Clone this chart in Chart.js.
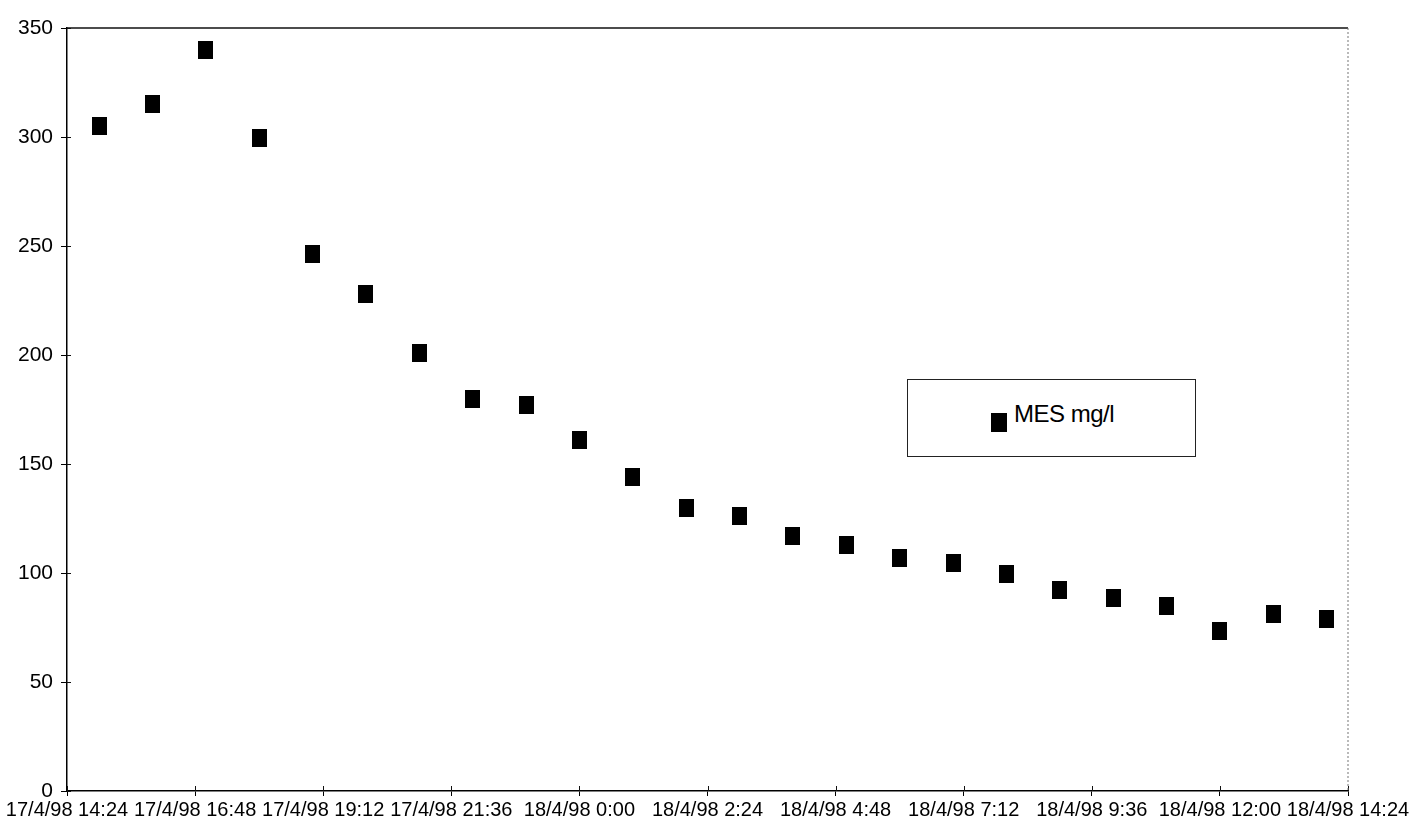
<!DOCTYPE html>
<html>
<head>
<meta charset="utf-8">
<title>MES mg/l</title>
<script src="https://cdn.jsdelivr.net/npm/chart.js@4.4.1/dist/chart.umd.min.js"></script>
<style>
    body { margin: 0; background: #fff; }
    #wrap { position: relative; width: 1420px; height: 833px; }
    #legend {
        position: absolute; left: 907px; top: 379px; width: 287px; height: 76px;
        border: 1px solid #222; background: #fff;
        font-family: "Liberation Sans", Arial, sans-serif; font-size: 24px; color: #000;
    }
    #legend .mark { position: absolute; left: 83px; top: 33px; width: 16px; height: 19px; background: #000; }
    #legend .text { position: absolute; left: 106px; top: 22px; line-height: 24px; letter-spacing: -0.5px; }
</style>
</head>
<body>
<div id="wrap">
    <canvas id="chart" width="1420" height="833"></canvas>
    <div id="legend"></div>
</div>
<script>
// sample times (hourly) and suspended solids readings
const sampleTimes = [
    '17/4/98 15:00', '17/4/98 16:00', '17/4/98 17:00', '17/4/98 18:00',
    '17/4/98 19:00', '17/4/98 20:00', '17/4/98 21:00', '17/4/98 22:00',
    '17/4/98 23:00', '18/4/98 0:00', '18/4/98 1:00', '18/4/98 2:00',
    '18/4/98 3:00', '18/4/98 4:00', '18/4/98 5:00', '18/4/98 6:00',
    '18/4/98 7:00', '18/4/98 8:00', '18/4/98 9:00', '18/4/98 10:00',
    '18/4/98 11:00', '18/4/98 12:00', '18/4/98 13:00', '18/4/98 14:00'
];
const mesValues = [
    305, 315, 340, 299.5, 246.5, 228, 201, 180,
    177, 161, 144, 130, 126, 117, 113, 107,
    104.5, 99.5, 92, 88.5, 85, 73.5, 81, 79
];
const xTickLabels = [
    '17/4/98 14:24', '17/4/98 16:48', '17/4/98 19:12', '17/4/98 21:36',
    '18/4/98 0:00', '18/4/98 2:24', '18/4/98 4:48', '18/4/98 7:12',
    '18/4/98 9:36', '18/4/98 12:00', '18/4/98 14:24'
];
const seriesLabel = 'MES mg/l';

// '17/4/98 14:24' -> minutes since 17/4/98 0:00
function toMinutes(label) {
    const [date, time] = label.split(' ');
    const day = parseInt(date.split('/')[0], 10);
    const [h, m] = time.split(':').map(Number);
    return (day - 17) * 1440 + h * 60 + m;
}

// black square marker, a bit taller than wide like the original
const marker = document.createElement('canvas');
marker.width = 15;
marker.height = 18;
const mctx = marker.getContext('2d');
mctx.fillStyle = '#000';
mctx.fillRect(0, 0, 15, 18);

const FONT = '"Liberation Sans", Arial, sans-serif';

// top line, dotted right edge and the small inner half of the tick marks
const frame = {
    id: 'frame',
    afterDraw(chart) {
        const { ctx, chartArea: a, scales } = chart;
        ctx.save();
        ctx.strokeStyle = '#111';
        ctx.lineWidth = 1.5;
        ctx.beginPath();
        ctx.moveTo(a.left, a.top);
        ctx.lineTo(a.right, a.top);
        ctx.stroke();

        ctx.lineWidth = 1;
        ctx.beginPath();
        scales.x.ticks.forEach(t => {
            const px = Math.round(scales.x.getPixelForValue(t.value)) + 0.5;
            ctx.moveTo(px, a.bottom);
            ctx.lineTo(px, a.bottom - 5);
        });
        scales.y.ticks.forEach(t => {
            const py = Math.round(scales.y.getPixelForValue(t.value)) + 0.5;
            ctx.moveTo(a.left, py);
            ctx.lineTo(a.left + 4, py);
        });
        ctx.stroke();

        ctx.strokeStyle = '#777';
        ctx.setLineDash([2, 2]);
        ctx.beginPath();
        ctx.moveTo(a.right, a.top);
        ctx.lineTo(a.right, a.bottom);
        ctx.stroke();
        ctx.restore();
    }
};

const chart = new Chart(document.getElementById('chart'), {
    type: 'scatter',
    data: {
        datasets: [{
            label: seriesLabel,
            data: sampleTimes.map((t, i) => ({ x: toMinutes(t), y: mesValues[i] })),
            pointStyle: marker,
            backgroundColor: '#000',
            borderColor: '#000'
        }]
    },
    options: {
        responsive: false,
        animation: false,
        layout: { padding: { top: 28, right: 72, left: 0, bottom: 0 } },
        plugins: {
            legend: { display: false },
            tooltip: { enabled: false }
        },
        scales: {
            x: {
                type: 'linear',
                min: toMinutes(xTickLabels[0]),
                max: toMinutes(xTickLabels[xTickLabels.length - 1]),
                afterBuildTicks: (scale) => {
                    scale.ticks = xTickLabels.map(l => ({ value: toMinutes(l) }));
                },
                afterFit: (scale) => { scale.height = 42; },
                border: { color: '#000', width: 1.5 },
                grid: { drawOnChartArea: false, tickLength: 5, color: '#000' },
                ticks: {
                    autoSkip: false,
                    maxRotation: 0,
                    padding: 2,
                    color: '#000',
                    font: { family: FONT, size: 20 },
                    callback: (v, i) => xTickLabels[i]
                }
            },
            y: {
                min: 0,
                max: 350,
                afterFit: (scale) => { scale.width = 67; },
                border: { color: '#000', width: 1.5 },
                grid: { drawOnChartArea: false, tickLength: 6, color: '#000' },
                ticks: {
                    stepSize: 50,
                    padding: 8,
                    color: '#000',
                    font: { family: FONT, size: 21 }
                }
            }
        }
    },
    plugins: [frame]
});

// legend box from the dataset
const legend = document.getElementById('legend');
chart.data.datasets.forEach(ds => {
    legend.innerHTML = '<span class="mark"></span><span class="text">' + ds.label + '</span>';
});
</script>
</body>
</html>
